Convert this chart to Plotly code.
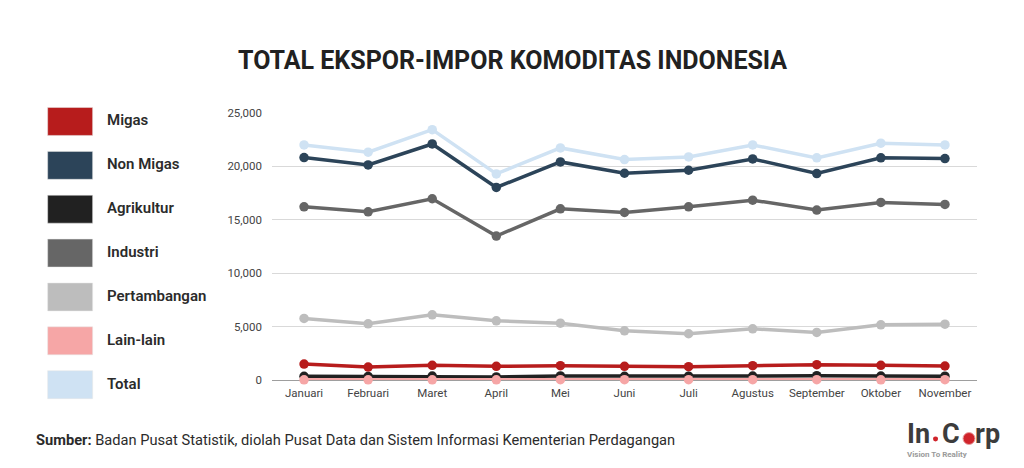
import plotly.graph_objects as go

months = ["Januari", "Februari", "Maret", "April", "Mei", "Juni", "Juli", "Agustus", "September", "Oktober", "November"]
migas = [1490, 1210, 1370, 1280, 1340, 1280, 1250, 1340, 1430, 1370, 1310]
non_migas = [20830, 20140, 22100, 18030, 20420, 19360, 19640, 20700, 19330, 20800, 20730]
agrikultur = [350, 330, 370, 290, 380, 350, 360, 370, 400, 370, 360]
industri = [16220, 15750, 16970, 13480, 16030, 15690, 16220, 16840, 15910, 16630, 16440]
pertambangan = [5760, 5260, 6100, 5540, 5320, 4610, 4330, 4790, 4450, 5170, 5230]
lain_lain = [20, 15, 20, 15, 30, 25, 30, 30, 25, 20, 25]
total = [22010, 21330, 23440, 19300, 21730, 20640, 20890, 22010, 20800, 22170, 22010]

names = ["Migas", "Non Migas", "Agrikultur", "Industri", "Pertambangan", "Lain-lain", "Total"]
series = [migas, non_migas, agrikultur, industri, pertambangan, lain_lain, total]
colors = ["#b71c1c", "#2c4459", "#212121", "#666666", "#bdbdbd", "#f6a6a6", "#cfe2f3"]

W, H = 1024, 468
ML, MR, MT, MB = 271.5, 47, 112.5, 87.7
PW, PH = W - ML - MR, H - MT - MB
fig = go.Figure()
for n, s, c in zip(names, series, colors):
    fig.add_trace(go.Scatter(x=months, y=s, name=n, mode="lines+markers", cliponaxis=False,
                             line=dict(color=c, width=3.5), marker=dict(color=c, size=9.5)))

def px(x): return (x - ML) / PW
def py(y): return (H - MB - y) / PH

shapes, ann = [], []
for i, (n, c) in enumerate(zip(names, colors)):
    top = 107 + i * 44
    shapes.append(dict(type="rect", xref="paper", yref="paper", x0=px(47), x1=px(92), y0=py(top), y1=py(top + 28),
                       fillcolor=c, line=dict(color="#e6e6e6", width=0.5)))
    ann.append(dict(text=n, xref="paper", yref="paper", x=px(104), y=py(top + 13), xanchor="left", yanchor="middle",
                    showarrow=False, font=dict(family="Roboto", size=15, color="#2b2b2b", weight=600)))

ann.append(dict(text="<b>TOTAL EKSPOR-IMPOR KOMODITAS INDONESIA</b>", xref="paper", yref="paper", x=px(512), y=py(60),
                xanchor="center", yanchor="middle", showarrow=False,
                font=dict(family="Roboto", size=25, color="#212121")))
ann.append(dict(text="<b>Sumber:</b> Badan Pusat Statistik, diolah Pusat Data dan Sistem Informasi Kementerian Perdagangan",
                xref="paper", yref="paper", x=px(33), y=py(440), xanchor="left", yanchor="middle", showarrow=False,
                font=dict(family="Roboto", size=14.65, color="#2b2b2b")))
# logo wordmark
for txt, xpos in [("In", 905), ("C", 940), ("rp", 972.5)]:
    ann.append(dict(text=f"<b>{txt}</b>", xref="paper", yref="paper", x=px(xpos), y=py(434), xanchor="left",
                    yanchor="middle", showarrow=False, font=dict(family="Roboto", size=27, color="#3c3c3c")))
ann.append(dict(text="<b>Vision To Reality</b>", xref="paper", yref="paper", x=px(905), y=py(455), xanchor="left",
                yanchor="middle", showarrow=False, font=dict(family="Roboto", size=8, color="#9a9a9a")))
shapes.append(dict(type="circle", xref="paper", yref="paper", x0=px(933), x1=px(938), y0=py(442), y1=py(437),
                   fillcolor="#d0242b", line=dict(width=0)))
shapes.append(dict(type="circle", xref="paper", yref="paper", x0=px(963), x1=px(975), y0=py(445), y1=py(433),
                   fillcolor="#d0242b", line=dict(color="#e9a0a0", width=1)))

fig.update_layout(
    width=W, height=H, autosize=False, showlegend=False, plot_bgcolor="white", paper_bgcolor="white",
    margin=dict(l=ML, r=MR, t=MT, b=MB), shapes=shapes, annotations=ann,
    font=dict(family="Roboto", size=11.5, color="#444444"),
    xaxis=dict(type="category", range=[-0.5, 10.5], showgrid=False, showline=False, ticks="", tickangle=0,
               ticklabelstandoff=4, tickfont=dict(size=11.5, color="#444444")),
    yaxis=dict(range=[0, 25000], tickvals=[0, 5000, 10000, 15000, 20000, 25000], tickformat=",", ticks="",
               gridcolor="#d9d9d9", gridwidth=1, zeroline=True, zerolinecolor="#9e9e9e", zerolinewidth=1,
               showline=False, ticklabelstandoff=9, tickfont=dict(size=11.5, color="#444444")),
)
fig.write_html("out.html", config=dict(displayModeBar=False),
               post_script="document.body.style.margin='0';document.documentElement.style.overflow='hidden';")
